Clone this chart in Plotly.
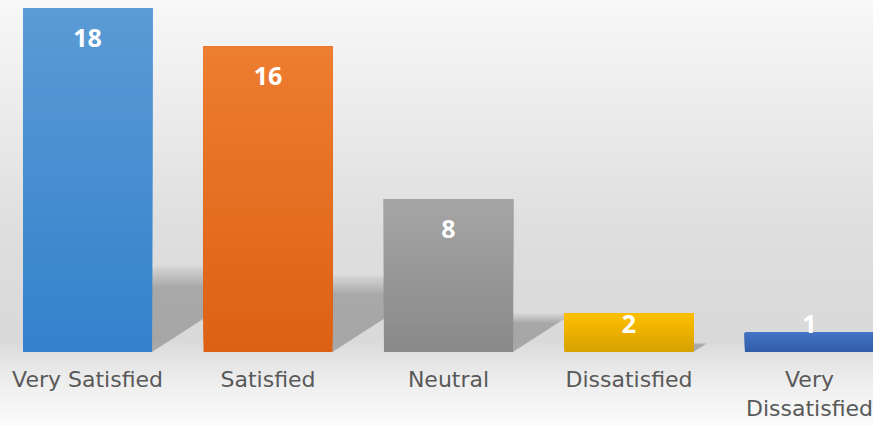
import base64
import numpy as np
import plotly.graph_objects as go

# Survey answers and counts
categories = ['Very Satisfied', 'Satisfied', 'Neutral', 'Dissatisfied', 'Very Dissatisfied']
tick_text = ['Very Satisfied', 'Satisfied', 'Neutral', 'Dissatisfied', 'Very<br>Dissatisfied']
counts = [18, 16, 8, 2, 1]

# top / bottom colours of each bar's vertical gradient
top_colors = [(91, 155, 213), (237, 125, 49), (165, 165, 165), (255, 192, 0), (68, 114, 196)]
bottom_colors = [(52, 129, 204), (221, 97, 19), (137, 137, 137), (214, 160, 0), (50, 92, 168)]

x = np.arange(len(categories))
vals = np.array(counts, dtype=float)
bar_w = 0.715
n_steps = 30

fig = go.Figure()

# gradient bars: overlapping layers, each one covering from its level up to the bar top
for j in range(n_steps):
    t = (j + 0.5) / n_steps  # 0 at bottom, 1 at top
    cols = []
    for tc, bc in zip(top_colors, bottom_colors):
        c = [round(bc[k] + (tc[k] - bc[k]) * t) for k in range(3)]
        cols.append(f'rgb({c[0]},{c[1]},{c[2]})')
    fig.add_trace(go.Bar(
        x=x, y=vals * (1 - j / n_steps), base=vals * j / n_steps,
        width=bar_w, marker=dict(color=cols, line=dict(width=0)),
        showlegend=False, hoverinfo='skip'
    ))

# value labels inside the top of each bar (kept above the axis for short bars)
label_y = np.maximum(vals - 1.7, 1.3)
fig.add_trace(go.Scatter(
    x=x, y=label_y, text=[str(c) for c in counts], mode='text',
    textposition='middle center',
    textfont=dict(family='Open Sans, Century Gothic, sans-serif', size=25, color='white', weight='bold'),
    showlegend=False, hoverinfo='skip'
))

# perspective shadows cast behind the bars (several faint layers to soften the edge)
shapes = []
for i, v in zip(x, vals):
    for s in np.linspace(0.85, 1.12, 10):
        h = 0.225 * v * s
        off = 0.0369 * v * s
        l, r = i - bar_w / 2, i + bar_w / 2
        path = f'M {l} 0 L {r} 0 L {r + off} {h} L {l + off} {h} Z'
        shapes.append(dict(type='path', path=path, xref='x', yref='y', layer='below',
                           fillcolor='rgba(0,0,0,0.022)', line=dict(width=0)))

# soft grey background gradient
svg = '''<svg xmlns="http://www.w3.org/2000/svg" width="10" height="425" preserveAspectRatio="none">
<defs><linearGradient id="g" x1="0" y1="0" x2="0" y2="1">
<stop offset="0" stop-color="#f8f8f8"/>
<stop offset="0.25" stop-color="#ececec"/>
<stop offset="0.55" stop-color="#dedede"/>
<stop offset="0.8" stop-color="#d9d9d9"/>
<stop offset="0.84" stop-color="#e3e3e3"/>
<stop offset="0.9" stop-color="#eeeeee"/>
<stop offset="1" stop-color="#fbfbfb"/>
</linearGradient></defs>
<rect width="10" height="425" fill="url(#g)"/></svg>'''
bg_src = 'data:image/svg+xml;base64,' + base64.b64encode(svg.encode()).decode()

fig.update_layout(
    width=873, height=425,
    margin=dict(l=0, r=0, t=8, b=73),
    barmode='overlay',
    paper_bgcolor='rgba(0,0,0,0)',
    plot_bgcolor='rgba(0,0,0,0)',
    shapes=shapes,
    images=[dict(source=bg_src, xref='paper', yref='paper', x=0, y=1 + 8 / 344,
                 sizex=1, sizey=425 / 344, sizing='stretch', layer='below',
                 xanchor='left', yanchor='top')],
    xaxis=dict(
        range=[-0.485, 4.352], tickvals=x, ticktext=tick_text,
        showgrid=False, zeroline=False, showline=False, ticks='',
        ticklabelstandoff=12,
        tickfont=dict(family='DejaVu Sans, Century Gothic, sans-serif', size=22, color='#595959')
    ),
    yaxis=dict(range=[0, 18], visible=False, showgrid=False, zeroline=False),
)

fig.write_html("out.html", config={'displayModeBar': False},
               post_script="document.body.style.margin='0';document.body.style.overflow='hidden';")
